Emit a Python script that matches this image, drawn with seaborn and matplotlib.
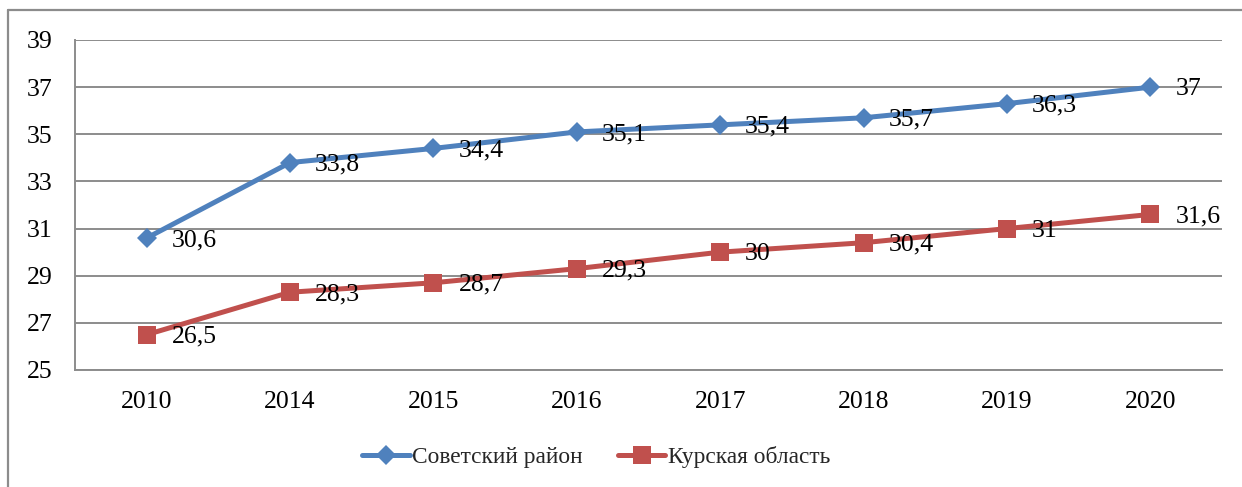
import matplotlib
matplotlib.use("Agg")
import matplotlib.pyplot as plt
import seaborn as sns
import pandas as pd
from matplotlib.lines import Line2D

years = ["2010", "2014", "2015", "2016", "2017", "2018", "2019", "2020"]
sovetsky = [30.6, 33.8, 34.4, 35.1, 35.4, 35.7, 36.3, 37.0]
kursk = [26.5, 28.3, 28.7, 29.3, 30.0, 30.4, 31.0, 31.6]
labels_sov = ["30,6", "33,8", "34,4", "35,1", "35,4", "35,7", "36,3", "37"]
labels_kur = ["26,5", "28,3", "28,7", "29,3", "30", "30,4", "31", "31,6"]
series_names = ["Советский район", "Курская область"]

sns.set_theme(style="white")
plt.rcParams["font.family"] = ["Liberation Serif", "DejaVu Serif"]

BLUE = "#4F81BD"
RED = "#C0504D"
GRID = "#8C8C8C"
FS = 18.5
LFS = 16.8

fig = plt.figure(figsize=(12.42, 4.87), dpi=100)
ax = fig.add_axes([75 / 1242, 1 - 370 / 487, (1222 - 75) / 1242, 330 / 487])

df = pd.DataFrame({
    "year": years * 2,
    "value": sovetsky + kursk,
    "series": [series_names[0]] * len(years) + [series_names[1]] * len(years),
})

sns.lineplot(data=df[df.series == series_names[0]], x="year", y="value", ax=ax,
             color=BLUE, lw=3.6, marker="D", markersize=10.5, markeredgewidth=0,
             sort=False, label=series_names[0], zorder=3)
sns.lineplot(data=df[df.series == series_names[1]], x="year", y="value", ax=ax,
             color=RED, lw=3.6, marker="s", markersize=13.5, markeredgewidth=0,
             sort=False, label=series_names[1], zorder=3)

for i, (v, t) in enumerate(zip(sovetsky, labels_sov)):
    ax.annotate(t, (i, v), xytext=(18, -1.5), textcoords="offset points",
                ha="left", va="center", fontsize=FS, color="black", zorder=4)
for i, (v, t) in enumerate(zip(kursk, labels_kur)):
    ax.annotate(t, (i, v), xytext=(18, -1.5), textcoords="offset points",
                ha="left", va="center", fontsize=FS, color="black", zorder=4)

ax.set_xlim(-0.5, len(years) - 0.5)
ax.set_ylim(25, 39)
ax.set_yticks(range(25, 40, 2))
ax.set_xlabel("")
ax.set_ylabel("")
ax.yaxis.grid(True, color=GRID, lw=1.4)
ax.xaxis.grid(False)
ax.tick_params(axis="both", length=0, labelsize=FS, colors="black")
ax.tick_params(axis="y", pad=16)
ax.tick_params(axis="x", pad=15)
for s in ["top", "right"]:
    ax.spines[s].set_visible(False)
for s in ["left", "bottom"]:
    ax.spines[s].set_color(GRID)
    ax.spines[s].set_linewidth(1.4)

leg = ax.legend(loc="center", bbox_to_anchor=(596 / 1242, 1 - 457 / 487),
                bbox_transform=fig.transFigure, ncol=2, frameon=False,
                fontsize=LFS, handlelength=2.05, handletextpad=0.1,
                columnspacing=1.5)

# outer chart frame
fig.add_artist(Line2D([8 / 1242, 8 / 1242], [0, 1 - 10 / 487], color=GRID, lw=1.6,
                      transform=fig.transFigure))
fig.add_artist(Line2D([8 / 1242, 1], [1 - 10 / 487, 1 - 10 / 487], color=GRID, lw=1.6,
                      transform=fig.transFigure))

fig.savefig("out.png", dpi=100, facecolor="white")
